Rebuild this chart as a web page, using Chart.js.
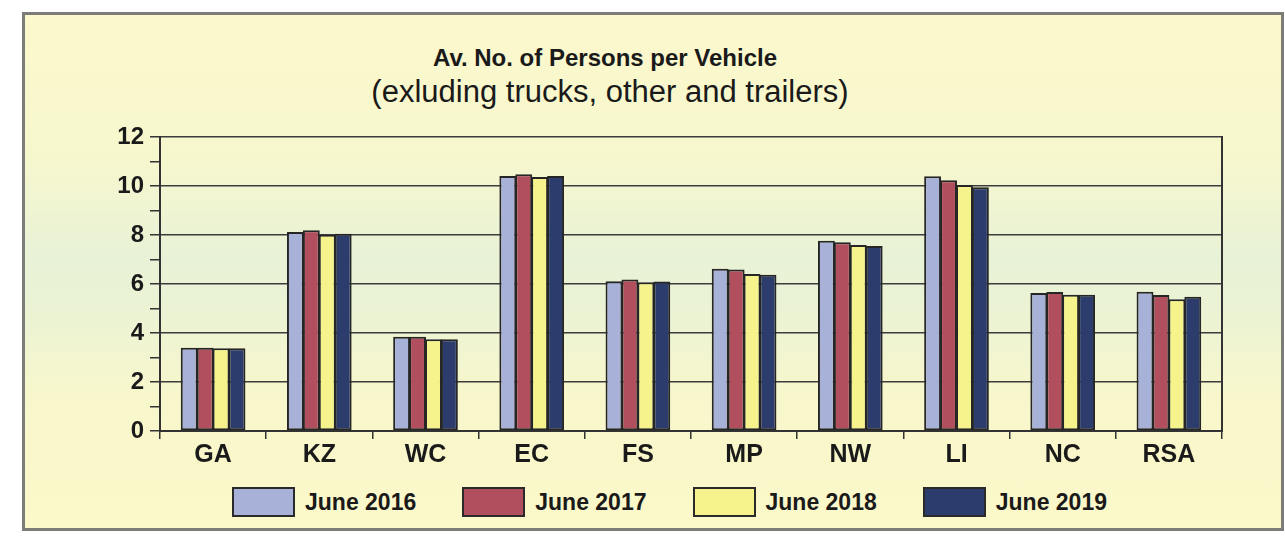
<!DOCTYPE html>
<html>
<head>
<meta charset="utf-8">
<script src="https://cdn.jsdelivr.net/npm/chart.js@4.4.0/dist/chart.umd.min.js"></script>
<style>
  body { margin: 0; width: 1285px; height: 545px; background: #ffffff; overflow: hidden;
         font-family: "Liberation Sans", Arial, sans-serif; }
  #frame { position: absolute; left: 22px; top: 12px; width: 1256px; height: 513px;
           border: 3px solid #7c7c78;
           background: linear-gradient(to bottom, #fbf8cb 0%, #f7f7ce 28%, #e8f2d6 47%, #ebf3d4 58%, #f8f7cc 74%, #fbf8c9 100%); }
  .t1 { position: absolute; left: 0; width: 1210px; top: 45px; text-align: center;
        font-weight: bold; font-size: 24px; line-height: 26px; color: #1a1a1a; }
  .t2 { position: absolute; left: 0; width: 1220px; top: 74px; text-align: center;
        font-size: 31px; line-height: 36px; color: #1a1a1a; }
  #chartBox { position: absolute; left: 25px; top: 16px; width: 1254px; height: 455px; }
  #legend { position: absolute; left: 232px; top: 487px; display: flex; gap: 46px; }
  .item { display: flex; align-items: center; }
  .box { width: 59px; height: 26px; border: 2px solid #2a2a2a; margin-right: 10px; }
  .lab { font-weight: bold; font-size: 23px; color: #1a1a1a; }
</style>
</head>
<body>
<div id="frame"></div>
<div class="t1">Av. No. of Persons per Vehicle</div>
<div class="t2">(exluding trucks, other and trailers)</div>
<div id="chartBox"><canvas id="chart"></canvas></div>
<div id="legend"></div>
<script>
const categories = ['GA', 'KZ', 'WC', 'EC', 'FS', 'MP', 'NW', 'LI', 'NC', 'RSA'];
const june2016 = [3.40, 8.12, 3.85, 10.41, 6.11, 6.62, 7.77, 10.40, 5.63, 5.68];
const june2017 = [3.40, 8.19, 3.85, 10.48, 6.18, 6.59, 7.70, 10.23, 5.67, 5.55];
const june2018 = [3.38, 8.01, 3.75, 10.37, 6.07, 6.41, 7.59, 10.04, 5.56, 5.38];
const june2019 = [3.38, 8.05, 3.75, 10.41, 6.10, 6.38, 7.55, 9.95, 5.56, 5.48];
const seriesNames = ['June 2016', 'June 2017', 'June 2018', 'June 2019'];
const seriesColors = ['#a8b2d8', '#b24f5e', '#f7f38c', '#2c3d6d'];

const font = "'Liberation Sans', Arial, sans-serif";
const ink = '#333333';

let datasets = [june2016, june2017, june2018, june2019].map(function(vals, i) {
  return {
    label: seriesNames[i],
    data: vals,
    backgroundColor: seriesColors[i],
    borderColor: '#262626',
    borderWidth: 2,
    borderSkipped: false,
    barPercentage: 1.06,
    categoryPercentage: 0.6
  };
});

// legend in html, built from the same series arrays
let legend = document.getElementById('legend');
seriesNames.forEach(function(name, i) {
  let item = document.createElement('div');
  item.className = 'item';
  item.innerHTML = '<div class="box" style="background:' + seriesColors[i] + '"></div><span class="lab">' + name + '</span>';
  legend.appendChild(item);
});

let config = {
  type: 'bar',
  data: { labels: categories, datasets: datasets },
  options: {
    responsive: true,
    maintainAspectRatio: false,
    animation: false,
    layout: { padding: { left: 0, right: 57, top: 121, bottom: 0 } },
    plugins: { legend: { display: false }, tooltip: { enabled: false } },
    scales: {
      x: {
        grid: { drawOnChartArea: false, offset: true, tickLength: 8, color: ink, lineWidth: 1.5 },
        border: { color: ink, width: 2 },
        ticks: { color: '#1a1a1a', font: { family: font, size: 25, weight: 'bold' }, padding: 1 }
      },
      y: {
        min: 0,
        max: 12,
        afterFit: function(s) { s.width = 135; },
        grid: {
          color: function(c) { return c.tick && c.tick.value % 2 === 0 ? '#3c3c3c' : 'rgba(0,0,0,0)'; },
          tickColor: ink,
          lineWidth: 1.5,
          tickLength: 10
        },
        border: { color: ink, width: 2 },
        ticks: {
          stepSize: 1,
          autoSkip: false,
          padding: 6,
          color: '#1a1a1a',
          font: { family: font, size: 24, weight: 'bold' },
          callback: function(v) { return v % 2 === 0 ? v : ''; }
        }
      },
      yRight: {
        position: 'right',
        min: 0,
        max: 12,
        grid: { display: false, drawTicks: false },
        border: { color: ink, width: 2 },
        ticks: { display: false }
      }
    }
  }
};

new Chart(document.getElementById('chart'), config);
</script>
</body>
</html>
